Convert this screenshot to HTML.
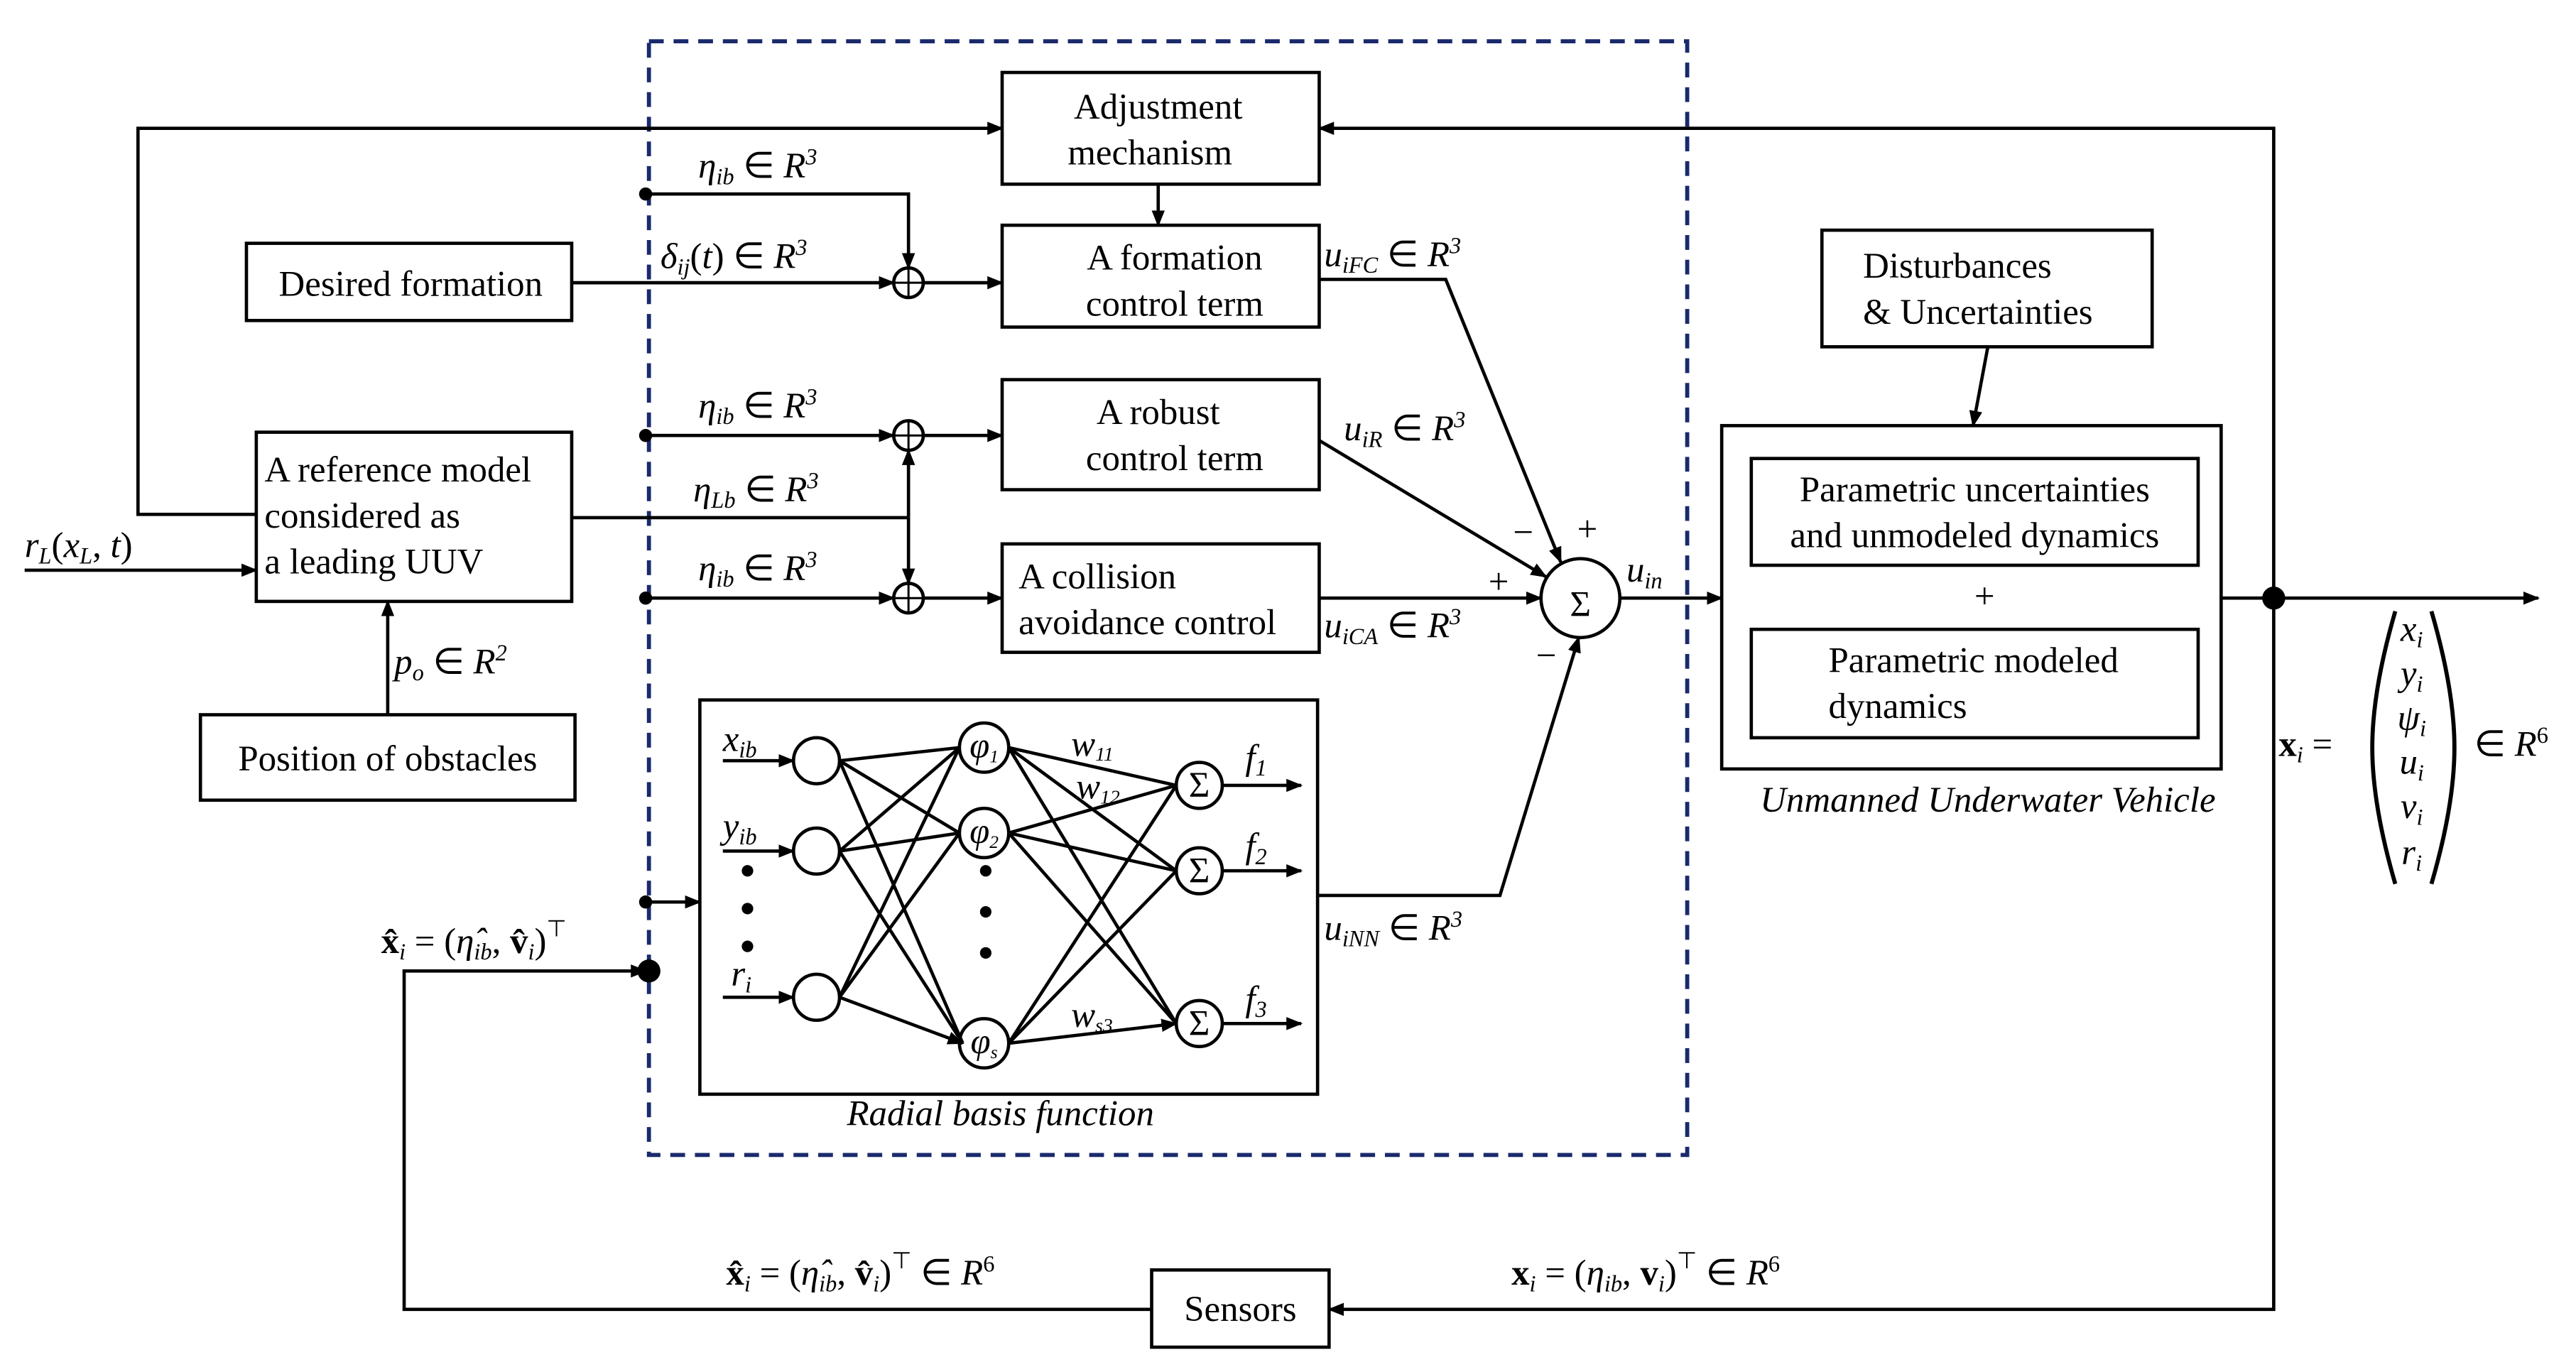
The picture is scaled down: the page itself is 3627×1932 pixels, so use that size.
<!DOCTYPE html>
<html><head><meta charset="utf-8"><style>
html,body{margin:0;padding:0;background:#fff;}
svg{display:block;}
text{font-family:"Liberation Serif",serif;font-size:22px;fill:#000;}
.it{font-style:italic;}
</style></head><body>
<svg width="3627" height="1932" viewBox="0 0 1568 835" xmlns="http://www.w3.org/2000/svg">
<defs>
<marker id="a" markerWidth="10" markerHeight="8" refX="9" refY="4" orient="auto" markerUnits="userSpaceOnUse">
<path d="M0,0 L10,4 L0,8 z" fill="#000"/></marker>
</defs>
<rect x="395" y="25" width="632" height="678" fill="none" stroke="#1a2a6c" stroke-width="2.5" stroke-dasharray="9,6"/>
<g fill="none" stroke="#000" stroke-width="2">
<rect x="610" y="44" width="193" height="68"/>
<rect x="610" y="137" width="193" height="62"/>
<rect x="610" y="231" width="193" height="67"/>
<rect x="610" y="331" width="193" height="66"/>
<rect x="150" y="148" width="198" height="47"/>
<rect x="156" y="263" width="192" height="103"/>
<rect x="122" y="435" width="228" height="52"/>
<rect x="1109" y="140" width="201" height="71"/>
<rect x="1048" y="259" width="304" height="209"/>
<rect x="1066" y="279" width="272" height="65"/>
<rect x="1066" y="383" width="272" height="66"/>
<rect x="701" y="773" width="108" height="47"/>
<rect x="426" y="426" width="376" height="240"/>
<circle cx="962" cy="364" r="24"/>
<circle cx="553" cy="172" r="9"/><circle cx="553" cy="265" r="9"/><circle cx="553" cy="364" r="9"/>
</g>
<g fill="none" stroke="#000" stroke-width="1.3">
<path d="M544,172h18M553,163v18M544,265h18M553,256v18M544,364h18M553,355v18"/>
</g>
<g fill="none" stroke="#000" stroke-width="2">
<path d="M156,313H84V78H610" marker-end="url(#a)"/>
<path d="M1384,364V78H803" marker-end="url(#a)"/>
<path d="M705,112V137" marker-end="url(#a)"/>
<path d="M393,118H553V163" marker-end="url(#a)"/>
<path d="M348,172H544" marker-end="url(#a)"/>
<path d="M562,172H610" marker-end="url(#a)"/>
<path d="M393,265H544" marker-end="url(#a)"/>
<path d="M562,265H610" marker-end="url(#a)"/>
<path d="M348,315H553"/>
<path d="M553,315V274" marker-end="url(#a)"/>
<path d="M553,315V355" marker-end="url(#a)"/>
<path d="M393,364H544" marker-end="url(#a)"/>
<path d="M562,364H610" marker-end="url(#a)"/>
<path d="M803,170H880L950,342" marker-end="url(#a)"/>
<path d="M803,268L941,351" marker-end="url(#a)"/>
<path d="M803,364H938" marker-end="url(#a)"/>
<path d="M802,545H913L961,388" marker-end="url(#a)"/>
<path d="M986,364H1048" marker-end="url(#a)"/>
<path d="M1352,364H1545" marker-end="url(#a)"/>
<path d="M1210,211L1201,259" marker-end="url(#a)"/>
<path d="M236,435V366" marker-end="url(#a)"/>
<path d="M15,347H156" marker-end="url(#a)"/>
<path d="M1384,364V797H809" marker-end="url(#a)"/>
<path d="M701,797H246V591H393" marker-end="url(#a)"/>
<path d="M393,549H426" marker-end="url(#a)"/>
</g>
<g fill="#000">
<circle cx="393" cy="118" r="4"/><circle cx="393" cy="265" r="4"/><circle cx="393" cy="364" r="4"/>
<circle cx="393" cy="549" r="4"/><circle cx="395" cy="591" r="7"/><circle cx="1384" cy="364" r="7"/>
<circle cx="455" cy="530" r="3.5"/><circle cx="455" cy="553" r="3.5"/><circle cx="455" cy="576" r="3.5"/>
<circle cx="600" cy="530" r="3.5"/><circle cx="600" cy="555" r="3.5"/><circle cx="600" cy="580" r="3.5"/>
</g>
<g fill="none" stroke="#000" stroke-width="2">
<circle cx="497" cy="463" r="14"/><circle cx="497" cy="518" r="14"/><circle cx="497" cy="607" r="14"/>
<circle cx="599" cy="455" r="15"/><circle cx="599" cy="507" r="15"/><circle cx="599" cy="635" r="15"/>
<circle cx="730" cy="478" r="14"/><circle cx="730" cy="530" r="14"/><circle cx="730" cy="623" r="14"/>
<path d="M440,463H483" marker-end="url(#a)"/><path d="M440,518H483" marker-end="url(#a)"/><path d="M440,607H483" marker-end="url(#a)"/>
<path d="M744,478H792" marker-end="url(#a)"/><path d="M744,530H792" marker-end="url(#a)"/><path d="M744,623H792" marker-end="url(#a)"/>
<path d="M511,463L584,455M511,463L584,507M511,463L586,635M511,518L584,455M511,518L584,507M511,518L586,635M511,607L584,455M511,607L584,507M511,607L586,635" marker-end="url(#a)"/>
<path d="M614,455L716,478M614,455L716,530M614,455L716,623M614,507L716,478M614,507L716,530M614,507L716,623M614,635L716,478M614,635L716,530M614,635L716,623" marker-end="url(#a)"/>
</g>
<text x="599" y="461" text-anchor="middle" class="it" font-size="17">φ<tspan font-size="11" dy="3">1</tspan></text>
<text x="599" y="513" text-anchor="middle" class="it" font-size="17">φ<tspan font-size="11" dy="3">2</tspan></text>
<text x="599" y="641" text-anchor="middle" class="it" font-size="17">φ<tspan font-size="11" dy="3">s</tspan></text>
<text x="730" y="485" text-anchor="middle" font-size="20">Σ</text>
<text x="730" y="537" text-anchor="middle" font-size="20">Σ</text>
<text x="730" y="630" text-anchor="middle" font-size="20">Σ</text>
<text x="440" y="457" class="it">x<tspan font-size="14" dy="4">ib</tspan></text>
<text x="440" y="510" class="it">y<tspan font-size="14" dy="4">ib</tspan></text>
<text x="445" y="600" class="it">r<tspan font-size="14" dy="4">i</tspan></text>
<text x="652" y="460" class="it" font-size="17">w<tspan font-size="12" dy="3">11</tspan></text>
<text x="655" y="486" class="it" font-size="17">w<tspan font-size="12" dy="3">12</tspan></text>
<text x="652" y="625" class="it" font-size="17">w<tspan font-size="12" dy="3">s3</tspan></text>
<text x="758" y="468" class="it">f<tspan font-size="14" dy="4">1</tspan></text>
<text x="758" y="522" class="it">f<tspan font-size="14" dy="4">2</tspan></text>
<text x="758" y="615" class="it">f<tspan font-size="14" dy="4">3</tspan></text>
<text x="609" y="685" text-anchor="middle" class="it" font-size="17">Radial basis function</text>
<g font-size="23">
<text x="705" y="72" text-anchor="middle" font-size="23">Adjustment</text>
<text x="700" y="100" text-anchor="middle" font-size="23">mechanism</text>
<text x="715" y="164" text-anchor="middle" font-size="23">A formation</text>
<text x="715" y="192" text-anchor="middle" font-size="23">control term</text>
<text x="705" y="258" text-anchor="middle" font-size="23">A robust</text>
<text x="715" y="286" text-anchor="middle" font-size="23">control term</text>
<text x="620" y="358" font-size="23">A collision</text>
<text x="620" y="386" font-size="23">avoidance control</text>
<text x="250" y="180" text-anchor="middle" font-size="23">Desired formation</text>
<text x="161" y="293" font-size="23">A reference model</text>
<text x="161" y="321" font-size="23">considered as</text>
<text x="161" y="349" font-size="23">a leading UUV</text>
<text x="236" y="469" text-anchor="middle" font-size="23">Position of obstacles</text>
<text x="1134" y="169" font-size="23">Disturbances</text>
<text x="1134" y="197" font-size="23">&amp; Uncertainties</text>
<text x="1202" y="305" text-anchor="middle" font-size="23">Parametric uncertainties</text>
<text x="1202" y="333" text-anchor="middle" font-size="23">and unmodeled dynamics</text>
<text x="1208" y="370" text-anchor="middle" font-size="23">+</text>
<text x="1113" y="409" font-size="23">Parametric modeled</text>
<text x="1113" y="437" font-size="23">dynamics</text>
<text x="1210" y="494" text-anchor="middle" class="it" font-size="23">Unmanned Underwater Vehicle</text>
<text x="755" y="804" text-anchor="middle" font-size="23">Sensors</text>
</g>
<text x="962" y="375" text-anchor="middle" font-size="30">Σ</text>
<text x="425" y="108" class="it">η<tspan font-size="14" dy="4">ib</tspan><tspan dy="-4" font-style="normal"> ∈ </tspan>R<tspan font-size="14" dy="-8">3</tspan></text>
<text x="402" y="163" class="it">δ<tspan font-size="14" dy="4">ij</tspan><tspan dy="-4" font-style="normal">(</tspan>t<tspan font-style="normal">) ∈ </tspan>R<tspan font-size="14" dy="-8">3</tspan></text>
<text x="425" y="254" class="it">η<tspan font-size="14" dy="4">ib</tspan><tspan dy="-4" font-style="normal"> ∈ </tspan>R<tspan font-size="14" dy="-8">3</tspan></text>
<text x="422" y="305" class="it">η<tspan font-size="14" dy="4">Lb</tspan><tspan dy="-4" font-style="normal"> ∈ </tspan>R<tspan font-size="14" dy="-8">3</tspan></text>
<text x="425" y="353" class="it">η<tspan font-size="14" dy="4">ib</tspan><tspan dy="-4" font-style="normal"> ∈ </tspan>R<tspan font-size="14" dy="-8">3</tspan></text>
<text x="806" y="162" class="it">u<tspan font-size="14" dy="4">iFC</tspan><tspan dy="-4" font-style="normal"> ∈ </tspan>R<tspan font-size="14" dy="-8">3</tspan></text>
<text x="818" y="268" class="it">u<tspan font-size="14" dy="4">iR</tspan><tspan dy="-4" font-style="normal"> ∈ </tspan>R<tspan font-size="14" dy="-8">3</tspan></text>
<text x="806" y="388" class="it">u<tspan font-size="14" dy="4">iCA</tspan><tspan dy="-4" font-style="normal"> ∈ </tspan>R<tspan font-size="14" dy="-8">3</tspan></text>
<text x="806" y="572" class="it">u<tspan font-size="14" dy="4">iNN</tspan><tspan dy="-4" font-style="normal"> ∈ </tspan>R<tspan font-size="14" dy="-8">3</tspan></text>
<text x="990" y="354" class="it">u<tspan font-size="14" dy="4">in</tspan></text>
<text x="921" y="331">−</text><text x="960" y="329">+</text><text x="906" y="361">+</text><text x="935" y="406">−</text>
<text x="15" y="339" class="it">r<tspan font-size="14" dy="4">L</tspan><tspan dy="-4" font-style="normal">(</tspan>x<tspan font-size="14" dy="4">L</tspan><tspan dy="-4" font-style="normal">, </tspan>t<tspan font-style="normal">)</tspan></text>
<text x="240" y="410" class="it">p<tspan font-size="14" dy="4">o</tspan><tspan dy="-4" font-style="normal"> ∈ </tspan>R<tspan font-size="14" dy="-8">2</tspan></text>
<text x="232" y="580"><tspan font-weight="bold">x̂</tspan><tspan font-size="14" dy="4" class="it">i</tspan><tspan dy="-4"> = (</tspan><tspan class="it">η̂</tspan><tspan font-size="14" dy="4" class="it">ib</tspan><tspan dy="-4">, </tspan><tspan font-weight="bold">v̂</tspan><tspan font-size="14" dy="4" class="it">i</tspan><tspan dy="-4">)</tspan><tspan font-size="14" dy="-10">⊤</tspan></text>
<text x="442" y="782"><tspan font-weight="bold">x̂</tspan><tspan font-size="14" dy="4" class="it">i</tspan><tspan dy="-4"> = (</tspan><tspan class="it">η̂</tspan><tspan font-size="14" dy="4" class="it">ib</tspan><tspan dy="-4">, </tspan><tspan font-weight="bold">v̂</tspan><tspan font-size="14" dy="4" class="it">i</tspan><tspan dy="-4">)</tspan><tspan font-size="14" dy="-10">⊤</tspan><tspan dy="10"> ∈ </tspan><tspan class="it">R</tspan><tspan font-size="14" dy="-8">6</tspan></text>
<text x="920" y="782"><tspan font-weight="bold">x</tspan><tspan font-size="14" dy="4" class="it">i</tspan><tspan dy="-4"> = (</tspan><tspan class="it">η</tspan><tspan font-size="14" dy="4" class="it">ib</tspan><tspan dy="-4">, </tspan><tspan font-weight="bold">v</tspan><tspan font-size="14" dy="4" class="it">i</tspan><tspan dy="-4">)</tspan><tspan font-size="14" dy="-10">⊤</tspan><tspan dy="10"> ∈ </tspan><tspan class="it">R</tspan><tspan font-size="14" dy="-8">6</tspan></text>
<text x="1387" y="460"><tspan font-weight="bold">x</tspan><tspan font-size="14" dy="4" class="it">i</tspan><tspan dy="-4"> =</tspan></text>
<path d="M1458,372 Q1444,420 1444,455 Q1444,490 1458,538" fill="none" stroke="#000" stroke-width="2.5"/>
<path d="M1480,372 Q1494,420 1494,455 Q1494,490 1480,538" fill="none" stroke="#000" stroke-width="2.5"/>
<text x="1468" y="390" class="it" text-anchor="middle">x<tspan font-size="14" dy="4">i</tspan></text>
<text x="1468" y="417" class="it" text-anchor="middle">y<tspan font-size="14" dy="4">i</tspan></text>
<text x="1468" y="444" class="it" text-anchor="middle">ψ<tspan font-size="14" dy="4">i</tspan></text>
<text x="1468" y="471" class="it" text-anchor="middle">u<tspan font-size="14" dy="4">i</tspan></text>
<text x="1468" y="498" class="it" text-anchor="middle">v<tspan font-size="14" dy="4">i</tspan></text>
<text x="1468" y="526" class="it" text-anchor="middle">r<tspan font-size="14" dy="4">i</tspan></text>
<text x="1506" y="460">∈ <tspan class="it">R</tspan><tspan font-size="14" dy="-8">6</tspan></text>
</svg>
</body></html>
